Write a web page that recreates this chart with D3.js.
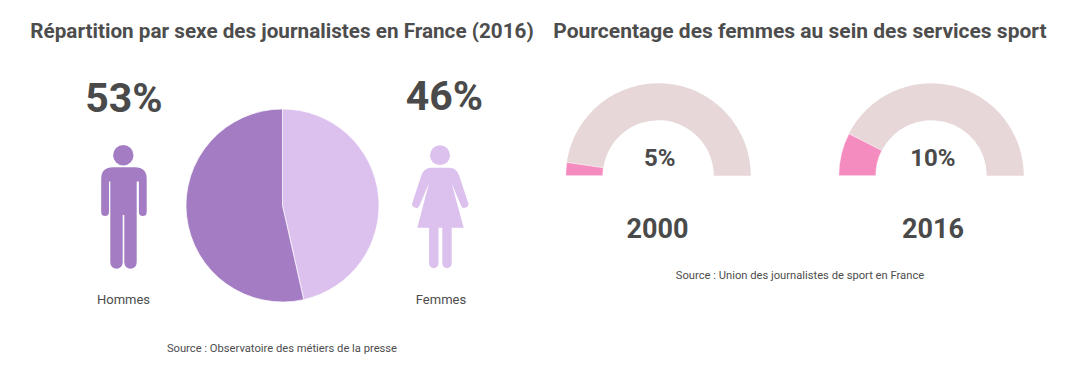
<!DOCTYPE html>
<html lang="fr">
<head>
    <meta charset="UTF-8">
    <title>Répartition par sexe des journalistes</title>
    <script src="https://d3js.org/d3.v7.min.js"></script>
    <style>
        html, body { margin: 0; padding: 0; background: #fff; overflow: hidden; }
        svg { display: block; font-family: Roboto, sans-serif; }
        .title { font-weight: 700; fill: #4d4d4d; }
        .big { font-size: 41px; font-weight: 700; fill: #4a4a4a; }
        .gaugeval { font-size: 24px; font-weight: 700; fill: #4a4a4a; }
        .year { font-size: 27px; font-weight: 700; fill: #4a4a4a; }
        .label { font-size: 13px; fill: #4d4d4d; }
        .source { font-size: 11.2px; fill: #4d4d4d; }
    </style>
</head>
<body>
<div id="chart"></div>
<script>
    // pie data
    const sexes = ["Femmes", "Hommes"];
    const sexValues = [46, 53];
    const sexColors = ["#dcc0ee", "#a37cc3"];

    // gauge data: printed label, and the share the pink slice really covers in the picture
    const years = ["2000", "2016"];
    const womenShare = [5, 10];
    const drawnShare = [4.6, 15];

    const pink = "#f48cbf", rest = "#e7d7d8";

    const svg = d3.select("#chart").append("svg")
        .attr("width", 1071)
        .attr("height", 373);

    function addText(x, y, cls, str) {
        return svg.append("text")
            .attr("x", x).attr("y", y)
            .attr("class", cls)
            .attr("text-anchor", "middle")
            .text(str);
    }

    addText(282, 38, "title", "Répartition par sexe des journalistes en France (2016)").style("font-size", "20.7px");
    addText(800, 38, "title", "Pourcentage des femmes au sein des services sport").style("font-size", "21px");

    // pie
    const pie = d3.pie().sort(null).value(d => d);
    const arc = d3.arc().innerRadius(0).outerRadius(96.5);
    svg.append("g")
        .attr("transform", "translate(282.5,205.5)")
        .selectAll("path")
        .data(pie(sexValues))
        .join("path")
        .attr("d", arc)
        .attr("fill", (d, i) => sexColors[i])
        .attr("stroke", "#fff")
        .attr("stroke-width", 0.7);

    addText(124, 112, "big", sexValues[1] + "%");
    addText(444.5, 110, "big", sexValues[0] + "%");
    addText(123.5, 304, "label", sexes[1]);
    addText(441, 304, "label", sexes[0]);
    addText(282, 352, "source", "Source : Observatoire des métiers de la presse");

    // man icon
    const man = svg.append("g").attr("fill", sexColors[1]);
    man.append("circle").attr("cx", 123.3).attr("cy", 155.3).attr("r", 10.2);
    man.append("path").attr("d",
        "M113 167.3H135Q146.7 167.3 146.7 179V212a3.9 3.9 0 0 1-7.8 0V181.5H136.7V262.5a6.2 6.2 0 0 1-12.4 0V215H122.7V262.5a6.2 6.2 0 0 1-12.4 0V181.5H109V212a3.9 3.9 0 0 1-7.8 0V179Q101.2 167.3 113 167.3Z");

    // woman icon
    const woman = svg.append("g").attr("fill", sexColors[0]);
    woman.append("circle").attr("cx", 440).attr("cy", 155.3).attr("r", 10);
    woman.append("path").attr("d",
        "M431 167.7H449.5Q456 167.7 459 175L468.2 203a3.8 3.8 0 0 1-7.2 2.4L451.5 183L463.7 227.7H451.7V263.5a4.7 4.7 0 0 1-9.4 0V227.7H438.5V263.5a4.7 4.7 0 0 1-9.4 0V227.7H417.3L429 183L419.5 205.4a3.8 3.8 0 0 1-7.2-2.4L421.5 175Q424.5 167.7 431 167.7Z");

    // gauges, one scale from percent to half circle angle
    const angle = d3.scaleLinear().domain([0, 100]).range([-Math.PI / 2, Math.PI / 2]);
    const gaugeArc = d3.arc().innerRadius(55.5).outerRadius(92.5);
    const gaugeX = [658.3, 931.3];
    const yearX = [657.5, 933];

    years.forEach((year, i) => {
        const g = svg.append("g").attr("transform", "translate(" + gaugeX[i] + ",175.7)");
        g.append("path")
            .attr("d", gaugeArc({startAngle: angle(drawnShare[i]), endAngle: angle(100)}))
            .attr("fill", rest);
        g.append("path")
            .attr("d", gaugeArc({startAngle: angle(0), endAngle: angle(drawnShare[i])}))
            .attr("fill", pink)
            .attr("stroke", "#fff")
            .attr("stroke-width", 0.5);
        addText(gaugeX[i] + 1.5, 166, "gaugeval", womenShare[i] + "%");
        addText(yearX[i], 237.5, "year", year);
    });

    addText(800, 279, "source", "Source : Union des journalistes de sport en France");
</script>
</body>
</html>
